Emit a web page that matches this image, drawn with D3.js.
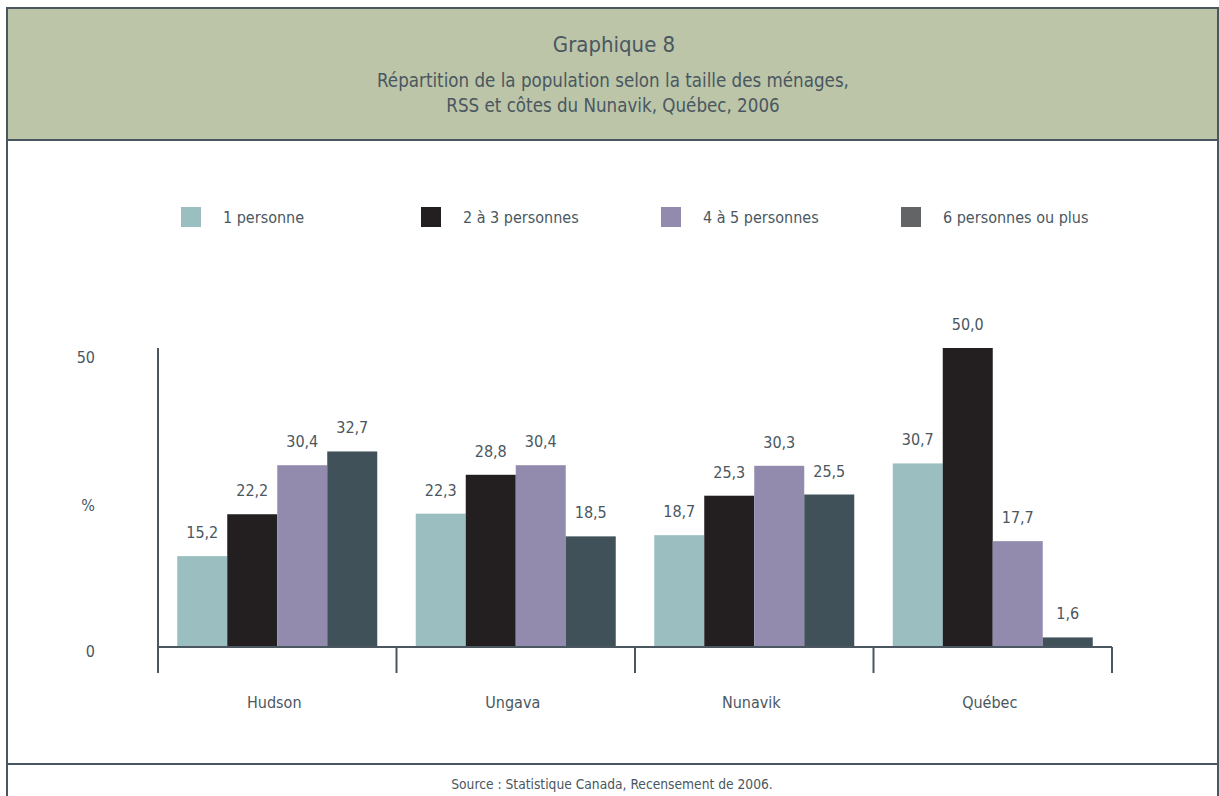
<!DOCTYPE html>
<html lang="fr">
<head>
    <meta charset="UTF-8">
    <title>Graphique 8</title>
    <script src="https://d3js.org/d3.v7.min.js"></script>
    <style>
        body { margin: 0; background: #ffffff; }
        svg { display: block; }
        text {
            font-family: "Liberation Sans Narrow", "DejaVu Sans Condensed", "Roboto", sans-serif;
            font-stretch: condensed;
            fill: #4a5761;
        }
    </style>
</head>
<body>
    <div id="chart"></div>
    <script>
        const categories = ["Hudson", "Ungava", "Nunavik", "Québec"];
        const seriesNames = ["1 personne", "2 à 3 personnes", "4 à 5 personnes", "6 personnes ou plus"];
        const onePerson = [15.2, 22.3, 18.7, 30.7];
        const twoThree = [22.2, 28.8, 25.3, 50.0];
        const fourFive = [30.4, 30.4, 30.3, 17.7];
        const sixPlus = [32.7, 18.5, 25.5, 1.6];
        const yTicks = [0, 50];

        const barColors = ["#9bbfc1", "#231f20", "#938bad", "#405159"];
        const legendColors = ["#9bbfc1", "#231f20", "#938bad", "#636466"];
        const ink = "#4a5761";

        const values = [onePerson, twoThree, fourFive, sixPlus];
        const data = categories.map((c, i) => ({
            cat: c,
            vals: seriesNames.map((s, j) => ({ series: s, idx: j, value: values[j][i] }))
        }));

        const W = 1219, H = 796;
        const svg = d3.select("#chart").append("svg")
            .attr("width", W)
            .attr("height", H);

        // frame + header
        svg.append("rect")
            .attr("x", 7).attr("y", 8)
            .attr("width", 1211).attr("height", 132)
            .attr("fill", "#bcc5a8");
        svg.append("path")
            .attr("d", "M7,800 V8 H1218 V800")
            .attr("fill", "none")
            .attr("stroke", ink)
            .attr("stroke-width", 2);
        svg.append("line")
            .attr("x1", 7).attr("x2", 1218).attr("y1", 140).attr("y2", 140)
            .attr("stroke", ink).attr("stroke-width", 2);
        svg.append("line")
            .attr("x1", 7).attr("x2", 1218).attr("y1", 764).attr("y2", 764)
            .attr("stroke", ink).attr("stroke-width", 2);

        svg.append("text")
            .attr("x", 614).attr("y", 52)
            .attr("text-anchor", "middle")
            .style("font-size", "22px")
            .text("Graphique 8");
        svg.append("text")
            .attr("x", 613).attr("y", 87)
            .attr("text-anchor", "middle")
            .style("font-size", "18.6px")
            .text("Répartition de la population selon la taille des ménages,");
        svg.append("text")
            .attr("x", 613).attr("y", 112)
            .attr("text-anchor", "middle")
            .style("font-size", "18.6px")
            .text("RSS et côtes du Nunavik, Québec, 2006");

        svg.append("text")
            .attr("x", 612).attr("y", 789)
            .attr("text-anchor", "middle")
            .style("font-size", "13.7px")
            .text("Source : Statistique Canada, Recensement de 2006.");

        // legend
        const legendX = d3.scalePoint().domain(seriesNames).range([181, 901]);
        const legend = svg.append("g").selectAll("g")
            .data(seriesNames)
            .join("g")
            .attr("transform", d => `translate(${legendX(d)},207)`);
        legend.append("rect")
            .attr("width", 20).attr("height", 20)
            .attr("fill", (d, i) => legendColors[i]);
        legend.append("text")
            .attr("x", 42).attr("y", 16)
            .style("font-size", "16px")
            .text(d => d);

        // scales
        const x0 = d3.scaleBand()
            .domain(categories)
            .range([158, 1112])
            .paddingInner(0).paddingOuter(0);
        const x1 = d3.scaleBand()
            .domain(d3.range(seriesNames.length))
            .range([0, x0.bandwidth()])
            .paddingInner(0).paddingOuter(0.385);
        const y = d3.scaleLinear().domain([0, 50]).range([647, 348]);

        // bars
        const groups = svg.append("g").selectAll("g")
            .data(data)
            .join("g")
            .attr("transform", d => `translate(${x0(d.cat)},0)`);
        groups.selectAll("rect")
            .data(d => d.vals)
            .join("rect")
            .attr("x", d => x1(d.idx))
            .attr("width", x1.bandwidth())
            .attr("y", d => y(d.value))
            .attr("height", d => y(0) - y(d.value))
            .attr("fill", d => barColors[d.idx]);
        groups.selectAll("text")
            .data(d => d.vals)
            .join("text")
            .attr("x", d => x1(d.idx) + x1.bandwidth() / 2)
            .attr("y", d => y(d.value) - 18)
            .attr("text-anchor", "middle")
            .style("font-size", "16px")
            .text(d => d3.format(".1f")(d.value).replace(".", ","));

        // axes
        const yAxis = svg.append("g");
        yAxis.append("line")
            .attr("x1", 158).attr("x2", 158)
            .attr("y1", y(50)).attr("y2", 673)
            .attr("stroke", ink).attr("stroke-width", 2);
        yAxis.selectAll("text.tick")
            .data(yTicks)
            .join("text")
            .attr("class", "tick")
            .attr("x", 95)
            .attr("y", d => y(d) + (d === 0 ? 10 : 15))
            .attr("text-anchor", "end")
            .style("font-size", "16px")
            .text(d => d);
        yAxis.append("text")
            .attr("x", 95).attr("y", y(24.5) + 11)
            .attr("text-anchor", "end")
            .style("font-size", "16px")
            .text("%");

        const xAxis = svg.append("g").attr("transform", `translate(0,${y(0)})`)
            .call(d3.axisBottom(x0).tickSize(0).tickPadding(50));
        xAxis.select(".domain").remove();
        xAxis.selectAll("text")
            .style("font-size", "16px")
            .attr("dx", -3)
            .attr("fill", ink);
        xAxis.append("line")
            .attr("x1", 158).attr("x2", 1112)
            .attr("stroke", ink).attr("stroke-width", 2);
        xAxis.selectAll("line.sep")
            .data(categories.concat([null]))
            .join("line")
            .attr("class", "sep")
            .attr("x1", (d, i) => d ? x0(d) : 1112)
            .attr("x2", (d, i) => d ? x0(d) : 1112)
            .attr("y1", 0).attr("y2", 26)
            .attr("stroke", ink).attr("stroke-width", 2);
    </script>
</body>
</html>
